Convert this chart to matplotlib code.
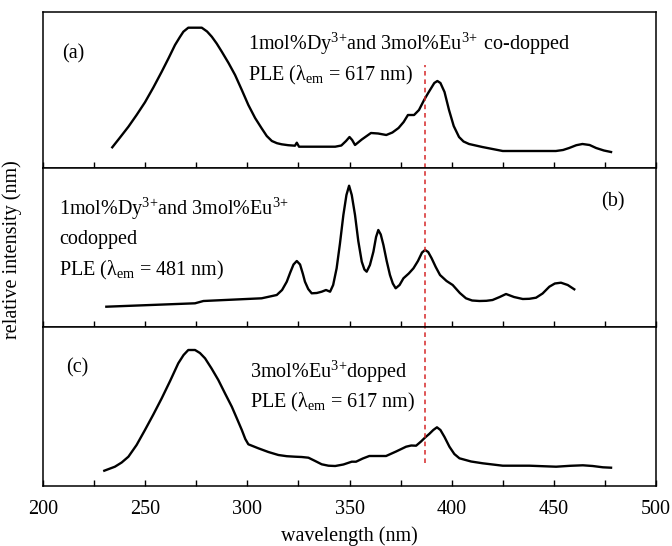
import matplotlib
matplotlib.use("Agg")
import matplotlib.pyplot as plt
from matplotlib.ticker import MultipleLocator

plt.rcParams['font.family'] = ['Liberation Serif', 'DejaVu Serif']
plt.rcParams['mathtext.fontset'] = 'custom'
plt.rcParams['mathtext.rm'] = 'Liberation Serif'
plt.rcParams['mathtext.it'] = 'Liberation Serif:italic'
plt.rcParams['mathtext.bf'] = 'Liberation Serif:bold'

# Panel (a): 1mol% Dy + 3mol% Eu co-doped, PLE em 617 nm
wl_a = [233.9, 237.5, 241.8, 245.8, 249.9, 254.0, 258.1, 261.5, 264.6, 267.0, 268.7, 271.1,
        277.7, 280.3, 282.6, 285.0, 287.5, 290.8, 294.0, 297.3, 300.5, 303.8, 307.0, 309.5,
        312.0, 314.5, 316.8, 320.0, 323.3, 324.2, 325.3, 335.0, 343.0, 346.0, 348.3, 350.0,
        351.3, 352.7, 356.0, 360.5, 364.0, 368.0, 371.0, 374.0, 376.5, 378.6, 381.6, 384.0,
        386.5, 388.5, 390.0, 391.5, 393.0, 394.5, 396.5, 398.7, 401.0, 403.6, 405.8, 408.5,
        415.0, 420.0, 425.0, 438.0, 451.0, 454.5, 457.5, 461.0, 464.0, 467.5, 470.7, 474.5,
        478.0]
int_a = [20.7, 30.0, 41.3, 53.0, 65.7, 80.5, 96.3, 110.0, 123.0, 131.0, 136.3, 140.3,
         140.3, 136.5, 131.3, 124.5, 116.3, 105.0, 93.0, 78.0, 63.0, 50.0, 39.7, 32.0,
         27.0, 24.8, 23.7, 22.8, 22.3, 25.3, 21.3, 21.3, 21.3, 22.5, 27.0, 31.0,
         28.0, 23.0, 28.5, 35.0, 34.5, 33.0, 35.5, 40.0, 46.0, 53.0, 53.0, 58.0,
         68.0, 75.0, 80.0, 85.0, 87.0, 85.0, 76.0, 58.0, 42.0, 31.0, 26.5, 24.0,
         21.0, 19.0, 17.0, 17.0, 17.0, 18.0, 20.0, 22.8, 24.0, 23.0, 20.0, 17.5,
         16.0]

# Panel (b): co-doped, PLE em 481 nm
wl_b = [231.0, 274.4, 278.5, 307.0, 314.4, 317.0, 319.3, 321.0, 322.6, 324.2, 325.8,
        327.2, 328.2, 329.8, 331.5, 334.0, 336.4, 338.5, 340.5, 342.0, 343.7, 345.3,
        347.0, 348.5, 349.8, 351.1, 352.7, 354.3, 356.0, 357.3, 358.4, 360.0, 361.7,
        363.0, 364.1, 365.3, 366.6, 368.2, 369.8, 371.2, 372.6, 374.5, 376.4, 379.0,
        381.3, 383.5, 385.5, 387.0, 388.5, 390.2, 392.2, 394.3, 397.5, 400.5, 404.0,
        407.0, 410.0, 413.6, 417.0, 420.0, 423.5, 426.6, 430.5, 434.8, 438.0, 441.3,
        444.5, 447.8, 450.5, 453.5, 456.8, 460.0]
int_b = [20.3, 23.7, 26.0, 28.7, 32.0, 37.0, 45.3, 54.5, 62.5, 66.0, 62.5,
         53.0, 45.3, 38.0, 33.7, 34.0, 35.3, 37.0, 35.3, 42.0, 58.7, 83.0,
         112.0, 132.0, 141.3, 132.0, 112.0, 86.0, 65.3, 57.5, 55.3, 62.0, 75.3,
         90.0, 97.0, 92.5, 82.0, 66.0, 52.0, 43.5, 38.7, 42.0, 48.7, 53.5,
         58.7, 66.0, 74.5, 77.0, 75.0, 68.7, 60.0, 52.0, 46.0, 42.0, 34.0,
         28.7, 26.5, 26.0, 26.2, 27.0, 30.0, 33.0, 30.0, 28.0, 28.2, 29.3,
         33.5, 40.3, 43.5, 44.3, 42.0, 37.7]

# Panel (c): 3mol% Eu doped, PLE em 617 nm
wl_c = [230.0, 235.2, 238.5, 241.8, 245.8, 249.9, 254.0, 258.1, 262.2, 266.2, 268.8,
        271.1, 274.4, 276.8, 279.3, 282.5, 285.8, 289.1, 292.4, 295.0, 297.3, 299.0,
        300.5, 305.4, 310.3, 315.2, 319.3, 323.3, 326.6, 329.9, 333.2, 336.4, 339.7,
        343.0, 347.0, 351.1, 353.2, 356.5, 359.7, 363.8, 367.9, 372.8, 377.7, 380.2,
        382.6, 385.0, 387.1, 389.0, 391.0, 392.8, 394.5, 396.5, 398.9, 401.3, 403.8,
        409.5, 415.2, 425.0, 438.0, 451.1, 458.0, 464.2, 469.0, 474.0, 478.0]
int_c = [15.3, 19.3, 23.5, 29.3, 41.0, 56.0, 71.5, 87.7, 105.0, 122.7, 131.0,
         136.0, 136.0, 133.0, 127.7, 117.5, 106.0, 92.5, 79.3, 67.0, 56.0, 47.0,
         41.7, 37.7, 34.0, 31.0, 29.8, 29.3, 29.0, 28.3, 25.0, 21.7, 20.3,
         20.0, 21.5, 24.3, 24.3, 27.5, 30.0, 30.0, 30.0, 34.5, 39.3, 40.5,
         40.3, 44.5, 48.7, 52.0, 56.0, 58.7, 56.0, 49.0, 39.3, 32.0, 27.7,
         24.5, 22.7, 20.3, 20.3, 19.3, 20.2, 20.7, 20.0, 18.7, 18.3]

x_ticks = [200, 250, 300, 350, 400, 450, 500]
marker_wl = 387

fig = plt.figure(figsize=(6.72, 5.46), dpi=100)
W, H = 672.0, 546.0
left, right = 43 / W, 656 / W
panels = [(12, 168), (168, 327), (327, 486)]
axes = []
for top, bot in panels:
    ax = fig.add_axes([left, 1 - bot / H, right - left, (bot - top) / H])
    axes.append(ax)

data = [(wl_a, int_a), (wl_b, int_b), (wl_c, int_c)]
for ax, (top, bot), (wl, it) in zip(axes, panels, data):
    ax.plot(wl, it, color='black', lw=1.7, solid_joinstyle='round')
    ax.set_xlim(200, 500)
    ax.set_ylim(0, bot - top)
    ax.set_yticks([])
    ax.xaxis.set_major_locator(MultipleLocator(50))
    ax.xaxis.set_minor_locator(MultipleLocator(25))
    ax.tick_params(axis='x', which='both', direction='in', length=4, width=1,
                   top=False, bottom=True, labelsize=14.5, pad=10)
    for s in ax.spines.values():
        s.set_linewidth(1.1)

for ax in axes[:2]:
    ax.tick_params(axis='x', labelbottom=False)
axes[2].set_xticks(x_ticks)
axes[2].set_xlabel('wavelength (nm)', fontsize=14.5, labelpad=5)

# red dashed marker line
dash = (0, (3, 2.5))
axes[0].axvline(marker_wl, ymin=0, ymax=0.66, color='#d62728', ls=dash, lw=1.1)
axes[1].axvline(marker_wl, ymin=0, ymax=1, color='#d62728', ls=dash, lw=1.1)
axes[2].axvline(marker_wl, ymin=0.145, ymax=1, color='#d62728', ls=dash, lw=1.1)

SUP = '$^{3\\!+}\\!$'
SUP_END = '$^{3\\!+}$'

fs = 14.5
ta = axes[0].get_xaxis_transform()
axes[0].text(209.3, 0.705, '(a)', transform=ta, fontsize=fs, va='baseline')
axes[0].text(300.3, 0.756, '1mol%Dy' + SUP + 'and 3mol%Eu' + SUP_END + ' co-dopped', transform=ta,
             fontsize=fs, va='baseline')
axes[0].text(300.3, 0.564, 'PLE (λ$_{\\rm em}$ = 617 nm)', transform=ta, fontsize=fs, va='baseline')

tb = axes[1].get_xaxis_transform()
axes[1].text(207.8, 0.704, '1mol%Dy' + SUP + 'and 3mol%Eu' + SUP_END, transform=tb, fontsize=fs,
             va='baseline')
axes[1].text(207.8, 0.522, 'codopped', transform=tb, fontsize=fs, va='baseline')
axes[1].text(207.8, 0.327, 'PLE (λ$_{\\rm em}$ = 481 nm)', transform=tb, fontsize=fs, va='baseline')
axes[1].text(473.1, 0.755, '(b)', transform=tb, fontsize=fs, va='baseline')

tc = axes[2].get_xaxis_transform()
axes[2].text(211.3, 0.711, '(c)', transform=tc, fontsize=fs, va='baseline')
axes[2].text(301.3, 0.679, '3mol%Eu' + SUP + 'dopped', transform=tc, fontsize=fs, va='baseline')
axes[2].text(301.3, 0.491, 'PLE (λ$_{\\rm em}$ = 617 nm)', transform=tc, fontsize=fs, va='baseline')

fig.text(12 / W, 1 - 250 / H, 'relative intensity (nm)', rotation=90, fontsize=fs,
         ha='center', va='center')

fig.savefig('out.png', dpi=100)
